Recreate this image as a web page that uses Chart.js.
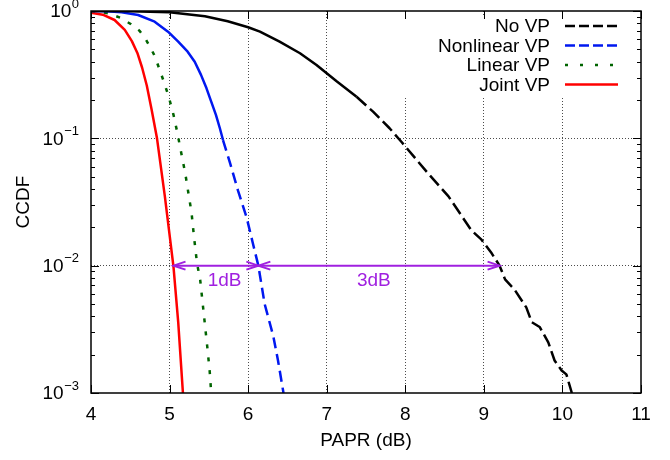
<!DOCTYPE html>
<html>
<head>
<meta charset="utf-8">
<title>CCDF of PAPR</title>
<script src="https://cdn.jsdelivr.net/npm/chart.js@4.4.0/dist/chart.umd.min.js"></script>
<style>
  html, body { margin: 0; padding: 0; background: #fff; }
  #wrap { width: 670px; height: 460px; }
</style>
</head>
<body>
<div id="wrap"><canvas id="chart" width="670" height="460"></canvas></div>
<script>
// Axis ticks
const xTicks = [4, 5, 6, 7, 8, 9, 10, 11];
const yTicks = [0.001, 0.01, 0.1, 1];
const yTickBase = '10';
const yTickExp = ['\u22123', '\u22122', '\u22121', '0'];

// Series
const seriesNames = ['No VP', 'Nonlinear VP', 'Linear VP', 'Joint VP'];

const noVpX = [4.0, 4.5, 5.0, 5.45, 5.74, 6.0, 6.15, 6.4, 6.66, 6.87, 7.13, 7.38, 7.59, 7.8, 7.95,
  8.29, 8.55, 8.84, 8.97, 9.1, 9.2, 9.27, 9.39, 9.54, 9.61, 9.71, 9.82, 9.9, 9.99, 10.05, 10.12];
const noVpY = [1.0, 0.997, 0.978, 0.91, 0.83, 0.745, 0.688, 0.574, 0.466, 0.377, 0.279, 0.212, 0.162, 0.12, 0.094,
  0.053, 0.035, 0.019, 0.016, 0.0125, 0.01, 0.0078, 0.0065, 0.0047, 0.0036, 0.0033, 0.0025, 0.0018, 0.0015, 0.0014, 0.001];

const nonlinX = [4.0, 4.2, 4.39, 4.6, 4.81, 4.98, 5.11, 5.23, 5.32, 5.4, 5.47, 5.53, 5.59, 5.64, 5.68,
  5.77, 5.87, 5.98, 6.06, 6.13, 6.21, 6.32, 6.38, 6.45];
const nonlinY = [1.0, 0.995, 0.976, 0.93, 0.824, 0.688, 0.574, 0.479, 0.4, 0.315, 0.247, 0.194, 0.153, 0.12, 0.097,
  0.064, 0.039, 0.024, 0.015, 0.01, 0.005, 0.0028, 0.0018, 0.001];

const linX = [4.0, 4.1, 4.22, 4.39, 4.51, 4.62, 4.69, 4.75, 4.8, 4.84, 4.92, 4.99, 5.05, 5.1, 5.15,
  5.2, 5.24, 5.28, 5.31, 5.35, 5.39, 5.43, 5.48, 5.51, 5.53];
const linY = [1.0, 0.99, 0.96, 0.876, 0.786, 0.697, 0.61, 0.525, 0.457, 0.395, 0.287, 0.212, 0.153, 0.11, 0.076,
  0.053, 0.037, 0.026, 0.017, 0.0104, 0.0077, 0.0045, 0.0023, 0.0015, 0.001];

const jointX = [4.0, 4.15, 4.3, 4.43, 4.52, 4.59, 4.65, 4.71, 4.77, 4.84, 4.94, 5.05, 5.11, 5.17];
const jointY = [0.97, 0.935, 0.85, 0.71, 0.58, 0.468, 0.36, 0.26, 0.17, 0.1, 0.035, 0.0098, 0.0036, 0.001];

// Gap annotations at CCDF = 1e-2
const gapLevel = 0.01;
const gapFrom = [5.05, 6.13];
const gapTo = [6.13, 9.2];
const gapLabels = ['1dB', '3dB'];
const gapLabelX = [5.7, 7.6];

const FONT = '"Liberation Sans", Arial, Helvetica, sans-serif';
const FONT_SIZE = 19;
const EXP_SIZE = 13;
const ANNOT_COLOR = '#a020e0';

const toPoints = (xs, ys) => xs.map((v, i) => ({ x: v, y: ys[i] }));

// Dense gnuplot output looks solid at the top of the dashed curves
const datasets = [
  {
    label: seriesNames[0], data: toPoints(noVpX, noVpY),
    borderColor: '#000000', borderWidth: 2.5, legendDash: [10, 4],
    segment: { borderDash: ctx => ctx.p0.parsed.x < 7.3 ? [] : [13, 5] }
  },
  {
    label: seriesNames[1], data: toPoints(nonlinX, nonlinY),
    borderColor: '#0018f0', borderWidth: 2.5, legendDash: [10, 4],
    segment: { borderDash: ctx => ctx.p0.parsed.y > 0.1 ? [] : [11, 6] }
  },
  {
    label: seriesNames[2], data: toPoints(linX, linY),
    borderColor: '#006400', borderWidth: 2.5, legendDash: [3, 12], borderDash: [4, 9]
  },
  {
    label: seriesNames[3], data: toPoints(jointX, jointY),
    borderColor: '#ff0000', borderWidth: 2.5, legendDash: []
  }
];

/**
 * Legend box (masks the grid), drawn before the curves
 */
const legendBox = {
  id: 'legendBox',
  beforeDatasetsDraw(chart) {
    const { ctx, chartArea: a } = chart;
    ctx.save();
    ctx.fillStyle = '#ffffff';
    ctx.fillRect(a.right - 246, a.top + 5, 236, 82);
    ctx.restore();
  }
};

/**
 * Frame, inward tick marks, y labels with exponents, gap arrows and legend entries
 */
const decorations = {
  id: 'decorations',
  afterDatasetsDraw(chart) {
    const { ctx, chartArea: a, scales: { x, y } } = chart;
    const snap = v => Math.round(v) + 0.5;
    ctx.save();

    // tick marks on all four sides
    ctx.strokeStyle = '#000';
    ctx.lineWidth = 1;
    ctx.beginPath();
    for (let d = 0.001; d < 1; d *= 10) {
      for (let m = 2; m <= 9; m++) {
        const py = snap(y.getPixelForValue(d * m));
        ctx.moveTo(a.left, py); ctx.lineTo(a.left + 4, py);
        ctx.moveTo(a.right, py); ctx.lineTo(a.right - 4, py);
      }
    }
    yTicks.forEach(v => {
      const py = snap(y.getPixelForValue(v));
      ctx.moveTo(a.left, py); ctx.lineTo(a.left + 8, py);
      ctx.moveTo(a.right, py); ctx.lineTo(a.right - 8, py);
    });
    xTicks.forEach(v => {
      const px = snap(x.getPixelForValue(v));
      ctx.moveTo(px, a.bottom); ctx.lineTo(px, a.bottom - 8);
      ctx.moveTo(px, a.top); ctx.lineTo(px, a.top + 8);
    });
    ctx.stroke();

    ctx.lineWidth = 1.5;
    ctx.strokeRect(a.left, a.top, a.right - a.left, a.bottom - a.top);

    // y tick labels: 10 with a raised exponent
    ctx.fillStyle = '#000';
    ctx.textAlign = 'right';
    ctx.textBaseline = 'middle';
    yTicks.forEach((v, i) => {
      const py = y.getPixelForValue(v);
      const expRight = a.left - 12;
      ctx.font = `${EXP_SIZE}px ${FONT}`;
      const expW = ctx.measureText(yTickExp[i]).width;
      ctx.fillText(yTickExp[i], expRight, py - 7);
      ctx.font = `${FONT_SIZE}px ${FONT}`;
      ctx.fillText(yTickBase, expRight - expW - 0.5, py + 1);
    });

    // double-headed arrows with labels
    ctx.strokeStyle = ANNOT_COLOR;
    ctx.fillStyle = ANNOT_COLOR;
    ctx.lineWidth = 2;
    const py = y.getPixelForValue(gapLevel);
    const head = (tipX, dir) => {
      ctx.beginPath();
      ctx.moveTo(tipX + dir * 12, py - 4);
      ctx.lineTo(tipX, py);
      ctx.lineTo(tipX + dir * 12, py + 4);
      ctx.stroke();
    };
    gapFrom.forEach((from, i) => {
      const x1 = x.getPixelForValue(from);
      const x2 = x.getPixelForValue(gapTo[i]);
      ctx.beginPath();
      ctx.moveTo(x1, py); ctx.lineTo(x2, py);
      ctx.stroke();
      head(x1, 1);
      head(x2, -1);
      ctx.font = `${FONT_SIZE}px ${FONT}`;
      ctx.textAlign = 'center';
      ctx.textBaseline = 'middle';
      ctx.fillText(gapLabels[i], x.getPixelForValue(gapLabelX[i]), py + 15);
    });

    // legend entries: right-aligned text, line sample on the right
    ctx.font = `${FONT_SIZE}px ${FONT}`;
    ctx.textAlign = 'right';
    ctx.textBaseline = 'middle';
    chart.data.datasets.forEach((ds, i) => {
      const rowY = a.top + 15 + i * 19.5;
      ctx.fillStyle = '#000';
      ctx.fillText(ds.label, a.right - 91, rowY + 1);
      ctx.strokeStyle = ds.borderColor;
      ctx.lineWidth = 2.5;
      ctx.setLineDash(ds.legendDash);
      ctx.beginPath();
      ctx.moveTo(a.right - 76, rowY);
      ctx.lineTo(a.right - 23, rowY);
      ctx.stroke();
      ctx.setLineDash([]);
    });

    ctx.restore();
  }
};

const gridColor = 'rgba(0,0,0,0.7)';

new Chart(document.getElementById('chart'), {
  type: 'line',
  data: { datasets },
  options: {
    responsive: false,
    animation: false,
    parsing: false,
    layout: { padding: { top: 11, right: 29, left: 0, bottom: 0 } },
    elements: {
      point: { radius: 0, hoverRadius: 0 },
      line: { tension: 0, fill: false, borderCapStyle: 'butt', borderJoinStyle: 'round' }
    },
    plugins: {
      legend: { display: false },
      tooltip: { enabled: false }
    },
    scales: {
      x: {
        type: 'linear',
        min: 4,
        max: 11,
        afterBuildTicks: s => { s.ticks = xTicks.map(v => ({ value: v })); },
        afterFit: s => { s.height = 67; },
        ticks: {
          autoSkip: false, maxRotation: 0, padding: 10, color: '#000',
          font: { family: FONT, size: FONT_SIZE },
          callback: v => String(v)
        },
        grid: {
          drawTicks: false, lineWidth: 1,
          color: c => (c.tick && (c.tick.value === 4 || c.tick.value === 11)) ? 'rgba(0,0,0,0)' : gridColor
        },
        border: { display: false, dash: [1, 2] },
        title: {
          display: true, text: 'PAPR (dB)', color: '#000',
          font: { family: FONT, size: FONT_SIZE },
          padding: { top: 0, bottom: 8 }
        }
      },
      y: {
        type: 'logarithmic',
        min: 0.001,
        max: 1,
        afterBuildTicks: s => { s.ticks = yTicks.map(v => ({ value: v })); },
        afterFit: s => { s.width = 91; },
        ticks: { display: false },
        grid: {
          drawTicks: false, lineWidth: 1,
          color: c => (c.tick && (c.tick.value === 1 || c.tick.value === 0.001)) ? 'rgba(0,0,0,0)' : gridColor
        },
        border: { display: false, dash: [1, 2] },
        title: {
          display: true, text: 'CCDF', color: '#000',
          font: { family: FONT, size: FONT_SIZE },
          padding: { top: 12, bottom: 0 }
        }
      }
    }
  },
  plugins: [legendBox, decorations]
});
</script>
</body>
</html>
